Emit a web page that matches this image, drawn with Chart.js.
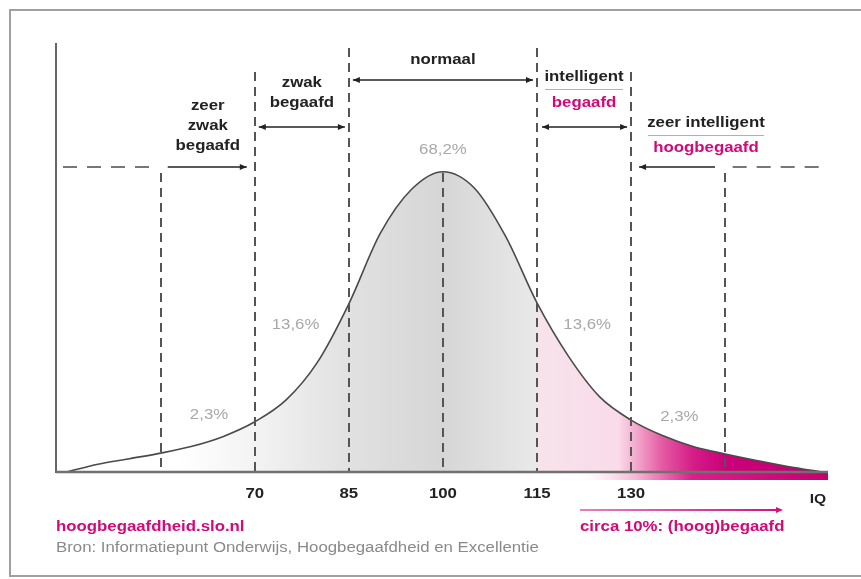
<!DOCTYPE html>
<html>
<head>
<meta charset="utf-8">
<script src="https://cdn.jsdelivr.net/npm/chart.js@4.4.1/dist/chart.umd.min.js"></script>
<style>
  html, body { margin: 0; padding: 0; background: #fff; }
  #wrap { position: relative; width: 861px; height: 579px; }
</style>
</head>
<body>
<div id="wrap"><canvas id="iqChart" width="861" height="579"></canvas></div>
<script>
// ================= DATA =================
const iqPoints     = [40, 45, 50, 55, 60, 65, 70, 75, 80, 85, 90, 95, 100, 105, 110, 115, 120, 125, 130, 135, 140, 145, 150, 155, 160.6];
const curveHeights = [0, 1.8, 3.1, 4.4, 6.0, 8.3, 11.7, 16.8, 25.6, 39.2, 55.6, 65.9, 70, 66.2, 54.9, 39.4, 27.0, 17.5, 12.1, 8.5, 5.9, 4.2, 2.7, 1.3, 0];
const tickValues   = [70, 85, 100, 115, 130];
const boundaryIQ   = [55, 70, 85, 100, 115, 130, 145];
const shareLabels  = ["2,3%", "13,6%", "68,2%", "13,6%", "2,3%"];
const bandNames    = [["zeer", "zwak", "begaafd"], ["zwak", "begaafd"], ["normaal"], ["intelligent"], ["zeer intelligent"]];
const bandSubNames = ["", "", "", "begaafd", "hoogbegaafd"];
const axisLabel    = "IQ";
const giftedNote   = "circa 10%: (hoog)begaafd";
const siteText     = "hoogbegaafdheid.slo.nl";
const sourceText   = "Bron: Informatiepunt Onderwijs, Hoogbegaafdheid en Excellentie";

// ================= STYLE =================
const MAGENTA = "#d10a7a";
const DARK = "#222";
const LINE_GRAY = "#555";
const TEXT_STRETCH = 1.2;
const fillStops = [
  [58, "#ffffff"], [70, "#f3f3f3"], [85, "#e1e1e1"], [100, "#d6d6d6"],
  [114.8, "#e9e9e9"], [115.3, "#f7e3ec"], [128, "#fadbe9"], [131, "#f2a6ca"],
  [135, "#e45aa3"], [140, "#d41c86"], [145, "#cc007a"], [161, "#c20070"]
];

function label(ctx, text, x, y, font, color, align) {
  ctx.save();
  ctx.font = font;
  ctx.fillStyle = color;
  ctx.textBaseline = "middle";
  ctx.textAlign = align || "center";
  ctx.translate(x, y);
  ctx.scale(TEXT_STRETCH, 1);
  ctx.fillText(text, 0, 0);
  ctx.restore();
}

function arrowHead(ctx, x, y, dir) {
  ctx.beginPath();
  ctx.moveTo(x, y);
  ctx.lineTo(x - dir * 7, y - 3);
  ctx.lineTo(x - dir * 7, y + 3);
  ctx.closePath();
  ctx.fill();
}

function arrow(ctx, x1, x2, y, heads, color) {
  ctx.save();
  ctx.strokeStyle = color || DARK;
  ctx.fillStyle = color || DARK;
  ctx.lineWidth = 1.5;
  ctx.beginPath();
  ctx.moveTo(x1, y);
  ctx.lineTo(x2, y);
  ctx.stroke();
  if (heads.includes("end")) arrowHead(ctx, x2, y, x2 > x1 ? 1 : -1);
  if (heads.includes("start")) arrowHead(ctx, x1, y, x1 > x2 ? 1 : -1);
  ctx.restore();
}

// ================= OVERLAY PLUGIN =================
const overlay = {
  id: "overlay",
  beforeDatasetsDraw(chart) {
    const ctx = chart.ctx;
    const xs = chart.scales.x;
    const { bottom } = chart.chartArea;
    // magenta band just under the baseline
    const x0 = xs.getPixelForValue(122), x1 = xs.getPixelForValue(161.4);
    const g = ctx.createLinearGradient(x0, 0, x1, 0);
    g.addColorStop(0, "rgba(250,220,235,0)");
    g.addColorStop(0.25, "#f2a6ca");
    g.addColorStop(0.45, "#d8208a");
    g.addColorStop(1, "#c4006e");
    ctx.save();
    ctx.fillStyle = g;
    ctx.fillRect(x0, bottom, x1 - x0, 8);
    ctx.restore();
  },
  afterDatasetsDraw(chart) {
    const ctx = chart.ctx;
    const xs = chart.scales.x;
    const { left, right, top, bottom } = chart.chartArea;
    const px = v => xs.getPixelForValue(v);

    // frame
    ctx.save();
    ctx.strokeStyle = "#a0a0a0";
    ctx.lineWidth = 2;
    ctx.beginPath();
    ctx.moveTo(861, 10); ctx.lineTo(10, 10); ctx.lineTo(10, 576); ctx.lineTo(861, 576);
    ctx.stroke();
    ctx.restore();

    // dashed boundaries
    const lineTops = [173, 72, 48, 173, 48, 72, 173];
    ctx.save();
    ctx.strokeStyle = LINE_GRAY;
    ctx.lineWidth = 2;
    ctx.setLineDash([9, 6]);
    boundaryIQ.forEach((iq, i) => {
      const x = Math.round(px(iq));
      ctx.beginPath();
      ctx.moveTo(x, lineTops[i]);
      ctx.lineTo(x, bottom);
      ctx.stroke();
    });
    // horizontal dashed pieces
    ctx.strokeStyle = "#777";
    ctx.setLineDash([14, 10]);
    ctx.beginPath();
    ctx.moveTo(left + 7, 167); ctx.lineTo(px(55) - 6, 167);
    ctx.moveTo(px(146.2), 167); ctx.lineTo(820, 167);
    ctx.stroke();
    ctx.restore();

    // axes
    ctx.save();
    ctx.strokeStyle = "#666";
    ctx.lineWidth = 2;
    ctx.beginPath();
    ctx.moveTo(left, top); ctx.lineTo(left, bottom + 1);
    ctx.stroke();
    ctx.strokeStyle = "#707070";
    ctx.lineWidth = 2.5;
    ctx.beginPath();
    ctx.moveTo(left, bottom); ctx.lineTo(right, bottom);
    ctx.stroke();
    ctx.restore();

    // tick labels
    const tickFont = "bold 14px 'Liberation Sans', Arial, sans-serif";
    tickValues.forEach(v => label(ctx, String(v), px(v), 494, tickFont, DARK));
    label(ctx, axisLabel, 818, 499, "bold 13px 'Liberation Sans', Arial, sans-serif", DARK);

    // band labels and arrows
    const bold = "bold 14px 'Liberation Sans', Arial, sans-serif";
    // zeer zwak begaafd
    const c0 = (px(55) + px(70)) / 2;
    bandNames[0].forEach((t, i) => label(ctx, t, c0, 106 + i * 20, bold, DARK));
    arrow(ctx, px(55) + 7, px(70) - 8, 167, ["end"]);
    // zwak begaafd
    const c1 = (px(70) + px(85)) / 2;
    bandNames[1].forEach((t, i) => label(ctx, t, c1, 83 + i * 20, bold, DARK));
    arrow(ctx, px(70) + 4, px(85) - 4, 127, ["start", "end"]);
    // normaal
    label(ctx, bandNames[2][0], px(100), 60, bold, DARK);
    arrow(ctx, px(85) + 4, px(115) - 4, 80, ["start", "end"]);
    // intelligent / begaafd
    const c3 = (px(115) + px(130)) / 2;
    label(ctx, bandNames[3][0], c3, 77, bold, DARK);
    ctx.save();
    ctx.strokeStyle = "#b0b0b0"; ctx.lineWidth = 1;
    ctx.beginPath(); ctx.moveTo(c3 - 39, 89.5); ctx.lineTo(c3 + 39, 89.5); ctx.stroke();
    ctx.restore();
    label(ctx, bandSubNames[3], c3, 103, bold, MAGENTA);
    arrow(ctx, px(115) + 5, px(130) - 4, 127, ["start", "end"]);
    // zeer intelligent / hoogbegaafd
    const c4 = 706;
    label(ctx, bandNames[4][0], c4, 123, bold, DARK);
    ctx.save();
    ctx.strokeStyle = "#b0b0b0"; ctx.lineWidth = 1;
    ctx.beginPath(); ctx.moveTo(c4 - 58, 135.5); ctx.lineTo(c4 + 58, 135.5); ctx.stroke();
    ctx.restore();
    label(ctx, bandSubNames[4], c4, 148, bold, MAGENTA);
    arrow(ctx, 715, px(130) + 8, 167, ["end"]);

    // share percentages
    const shareAt = [[62.7, 415], [76.5, 325], [100, 150], [123, 325], [137.7, 417]];
    const pctFont = "14px 'Liberation Sans', Arial, sans-serif";
    shareLabels.forEach((t, i) => label(ctx, t, px(shareAt[i][0]), shareAt[i][1], pctFont, "#a8a8a8"));

    // bottom note
    const ag = ctx.createLinearGradient(580, 0, 782, 0);
    ag.addColorStop(0, "#e880b8");
    ag.addColorStop(1, "#d4107f");
    ctx.save();
    ctx.strokeStyle = ag; ctx.fillStyle = "#d4107f"; ctx.lineWidth = 2;
    ctx.beginPath(); ctx.moveTo(580, 510); ctx.lineTo(776, 510); ctx.stroke();
    arrowHead(ctx, 783, 510, 1);
    ctx.restore();
    label(ctx, giftedNote, 580, 527, bold, MAGENTA, "left");
    label(ctx, siteText, 56, 527, bold, MAGENTA, "left");
    label(ctx, sourceText, 56, 548, "14px 'Liberation Sans', Arial, sans-serif", "#8a8a8a", "left");
  }
};

// ================= CHART =================
const curveData = iqPoints.map((iq, i) => ({ x: iq, y: curveHeights[i] }));

new Chart(document.getElementById("iqChart"), {
  type: "line",
  data: {
    datasets: [{
      data: curveData,
      borderColor: "#4a4a4a",
      borderWidth: 1.6,
      pointRadius: 0,
      cubicInterpolationMode: "monotone",
      fill: "origin",
      backgroundColor: (context) => {
        const chart = context.chart;
        const area = chart.chartArea;
        if (!area) return "#ddd";
        const xs = chart.scales.x;
        const g = chart.ctx.createLinearGradient(area.left, 0, area.right, 0);
        fillStops.forEach(([iq, col]) => {
          const t = (xs.getPixelForValue(iq) - area.left) / (area.right - area.left);
          g.addColorStop(Math.min(1, Math.max(0, t)), col);
        });
        return g;
      }
    }]
  },
  options: {
    responsive: false,
    animation: false,
    events: [],
    layout: { padding: { left: 56, right: 33, top: 43, bottom: 107 } },
    plugins: { legend: { display: false }, tooltip: { enabled: false } },
    scales: {
      x: { type: "linear", min: 38.3, max: 161.4, display: false },
      y: { min: 0, max: 100, display: false }
    }
  },
  plugins: [overlay]
});
</script>
</body>
</html>
